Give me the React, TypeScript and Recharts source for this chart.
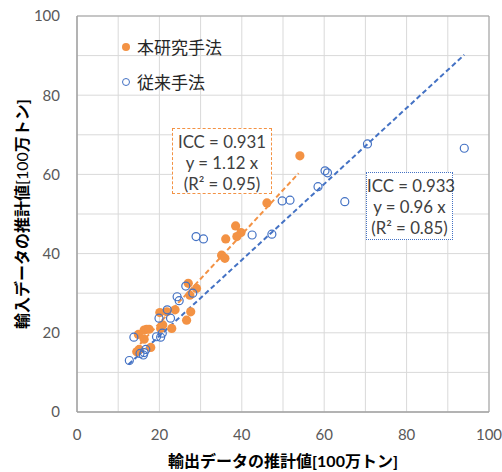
import React from 'react';
import { ScatterChart, Scatter, XAxis, YAxis, CartesianGrid, ReferenceArea } from 'recharts';

// 本研究手法 (orange)
const proposedX = [54.1, 46.1, 38.5, 39.8, 38.8, 36.1, 35.1, 35.9, 27.0, 29.0, 27.4, 21.8, 23.8, 20.1, 26.6, 27.6, 20.8, 16.9, 16.3, 17.5, 14.9, 16.3, 20.3, 23.0, 17.9, 15.1, 14.5];
const proposedY = [64.7, 52.8, 47.0, 45.3, 44.3, 43.7, 39.6, 38.8, 32.5, 31.2, 29.5, 25.3, 25.8, 25.1, 23.2, 25.3, 22.0, 20.9, 20.7, 20.9, 19.6, 18.4, 21.1, 21.1, 16.3, 15.8, 15.2];

// 従来手法 (blue)
const convX = [94.0, 70.5, 60.2, 60.8, 58.5, 65.0, 49.8, 51.7, 47.3, 42.5, 28.9, 30.7, 26.4, 28.1, 24.3, 24.8, 21.9, 19.9, 22.7, 19.3, 20.3, 20.7, 13.8, 15.3, 16.3, 16.1, 16.7, 12.7];
const convY = [66.6, 67.7, 60.9, 60.4, 56.9, 53.1, 53.3, 53.5, 44.9, 44.7, 44.3, 43.7, 31.8, 30.0, 29.1, 28.1, 25.8, 23.7, 23.7, 19.0, 18.9, 19.9, 18.9, 14.8, 15.0, 14.4, 15.8, 13.0];

// trend lines (endpoints)
const proposedTrendX = [14.0, 53.8];
const proposedTrendY = [15.7, 60.3];
const convTrendX = [12.5, 94.0];
const convTrendY = [12.0, 90.2];

const axisTicks = [0, 10, 20, 30, 40, 50, 60, 70, 80, 90, 100];

const seriesNames = ['本研究手法', '従来手法'];
const orangeBox = ['ICC = 0.931', 'y = 1.12 x', '(R² = 0.95)'];
const blueBox = ['ICC = 0.933', 'y = 0.96 x', '(R² = 0.85)'];
const xTitle = '輸出データの推計値[100万トン]';
const yTitleA = '輸入データの推計値';
const yTitleB = '[100';
const yTitleC = '万トン]';

const ORANGE = '#F39244';
const BLUE = '#4472C4';
const FRAME = '#a0a0a0';
const FONT = 'Lato, "Noto Sans CJK JP", sans-serif';

const zip = (xs: number[], ys: number[]) => xs.map((x, i) => ({ x, y: ys[i] }));
const proposed = zip(proposedX, proposedY);
const conv = zip(convX, convY);
const proposedTrend = zip(proposedTrendX, proposedTrendY);
const convTrend = zip(convTrendX, convTrendY);

const OrangeDot = (p: any) => <circle cx={p.cx} cy={p.cy} r={4.6} fill={ORANGE} stroke="none" />;
const BlueDot = (p: any) => <circle cx={p.cx} cy={p.cy} r={4} fill="#fff" fillOpacity={0} stroke={BLUE} strokeWidth={1.2} />;
const NoDot = () => <g />;

const boxText: React.CSSProperties = {
  position: 'absolute',
  fontFamily: FONT,
  fontSize: 16.8,
  lineHeight: '21px',
  color: '#404040',
  textAlign: 'center',
  background: '#fff',
  boxSizing: 'border-box',
  paddingTop: 2,
  whiteSpace: 'nowrap',
};

export default function App() {
  return (
    <div style={{ position: 'absolute', left: 0, top: 0, width: 502, height: 472, background: '#fff' }}>
      <ScatterChart width={502} height={472} margin={{ top: 16, right: 13, left: 0, bottom: 0 }}>
        <CartesianGrid stroke="#d9d9d9" strokeWidth={1} />
        <XAxis
          type="number"
          dataKey="x"
          domain={[0, 100]}
          ticks={axisTicks}
          interval={0}
          tickFormatter={(v: number) => (v % 20 === 0 ? String(v) : '')}
          tickLine={false}
          tickSize={0}
          tickMargin={17}
          axisLine={{ stroke: FRAME }}
          height={60}
          tick={{ fill: '#595959', fontSize: 15, fontFamily: FONT }}
          label={{
            content: (props: any) => {
              const vb = props.viewBox;
              return (
                <text x={vb.x + vb.width / 2} y={vb.y + 55} textAnchor="middle" fontFamily={FONT} fontSize={16} fontWeight="bold" fill="#000">
                  {xTitle}
                </text>
              );
            },
          }}
        />
        <YAxis
          type="number"
          dataKey="y"
          domain={[0, 100]}
          ticks={axisTicks}
          interval={0}
          tickFormatter={(v: number) => (v % 20 === 0 ? String(v) : '')}
          tickLine={false}
          tickSize={0}
          tickMargin={17}
          axisLine={{ stroke: FRAME }}
          width={77}
          tick={{ fill: '#595959', fontSize: 15, fontFamily: FONT }}
          label={{
            content: (props: any) => {
              const vb = props.viewBox;
              const cx = 21;
              const cy = vb.y + vb.height / 2;
              return (
                <text x={cx} y={cy} textAnchor="middle" dominantBaseline="central" transform={`rotate(-90 ${cx} ${cy})`} fontFamily={FONT} fontSize={16} fill="#000">
                  <tspan fontWeight="bold">{yTitleA}</tspan>
                  <tspan fontWeight="normal">{yTitleB}</tspan>
                  <tspan fontWeight="bold">{yTitleC}</tspan>
                </text>
              );
            },
          }}
        />
        <ReferenceArea x1={0} x2={100} y1={0} y2={100} fill="none" fillOpacity={0} stroke={FRAME} strokeWidth={1} />
        <Scatter name={seriesNames[1]} data={convTrend} line={{ stroke: BLUE, strokeWidth: 2, strokeDasharray: '5 3' }} shape={NoDot} isAnimationActive={false} legendType="none" />
        <Scatter name={seriesNames[0]} data={proposedTrend} line={{ stroke: ORANGE, strokeWidth: 2, strokeDasharray: '5 3' }} shape={NoDot} isAnimationActive={false} legendType="none" />
        <Scatter name={seriesNames[0]} data={proposed} shape={OrangeDot} isAnimationActive={false} />
        <Scatter name={seriesNames[1]} data={conv} shape={BlueDot} isAnimationActive={false} />
      </ScatterChart>
      <div style={{ position: 'absolute', left: 121, top: 29, fontFamily: FONT, fontSize: 17, color: '#262626' }}>
        <div style={{ display: 'flex', alignItems: 'center', height: 35 }}>
          <svg width={10} height={10} style={{ marginRight: 6 }}><circle cx={5} cy={5} r={4} fill={ORANGE} /></svg>
          <span>{seriesNames[0]}</span>
        </div>
        <div style={{ display: 'flex', alignItems: 'center', height: 35 }}>
          <svg width={10} height={10} style={{ marginRight: 6 }}><circle cx={5} cy={5} r={3.5} fill="none" stroke={BLUE} strokeWidth={1} /></svg>
          <span>{seriesNames[1]}</span>
        </div>
      </div>
      <div style={{ ...boxText, left: 172, top: 128, width: 100, height: 66, border: `1px dashed ${ORANGE}` }}>
        {orangeBox.map((t) => <div key={t}>{t}</div>)}
      </div>
      <div style={{ ...boxText, left: 366, top: 172, width: 87, height: 68, border: `1px dotted ${BLUE}` }}>
        {blueBox.map((t) => <div key={t}>{t}</div>)}
      </div>
    </div>
  );
}
